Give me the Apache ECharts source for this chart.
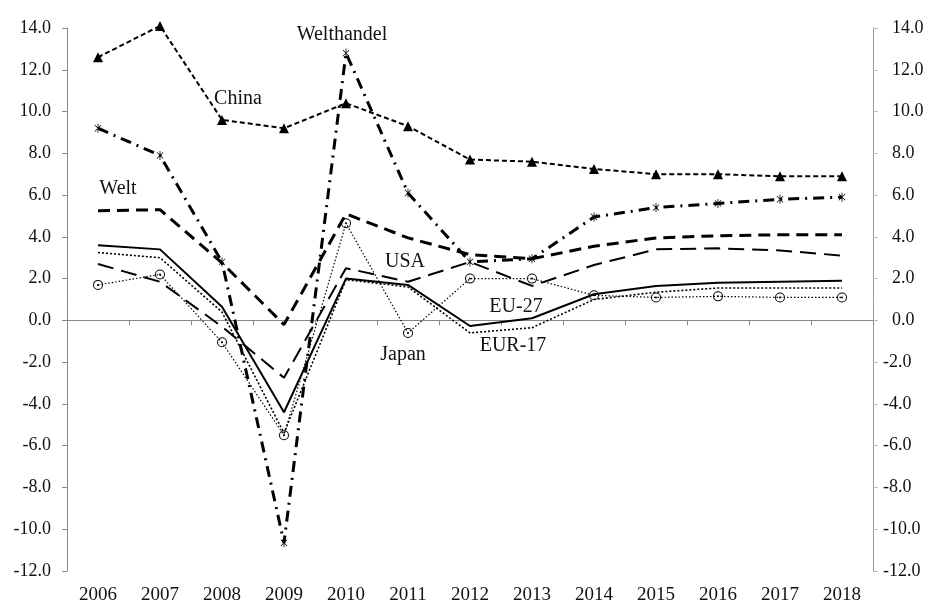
<!DOCTYPE html>
<html>
<head>
<meta charset="utf-8">
<script src="https://cdn.jsdelivr.net/npm/echarts@6/dist/echarts.min.js"></script>
<style>
  html, body { margin: 0; padding: 0; background: #fff; }
  #chart { width: 940px; height: 605px; }
</style>
</head>
<body>
<div id="chart"></div>
<script>
const years = ['2006', '2007', '2008', '2009', '2010', '2011', '2012', '2013', '2014', '2015', '2016', '2017', '2018']

const china = [12.6, 14.1, 9.6, 9.2, 10.4, 9.3, 7.7, 7.6, 7.25, 7.0, 7.0, 6.9, 6.9]
const welthandel = [9.2, 7.9, 2.8, -10.65, 12.8, 6.1, 2.8, 2.95, 4.95, 5.4, 5.6, 5.8, 5.9]
const welt = [5.25, 5.3, 2.75, -0.2, 5.1, 3.95, 3.15, 2.95, 3.55, 3.95, 4.05, 4.1, 4.1]
const usa = [2.7, 1.85, -0.3, -2.75, 2.5, 1.85, 2.8, 1.65, 2.65, 3.4, 3.45, 3.35, 3.1]
const eu27 = [3.6, 3.4, 0.65, -4.4, 2.0, 1.7, -0.27, 0.1, 1.25, 1.65, 1.8, 1.85, 1.9]
const eur17 = [3.25, 3.0, 0.4, -5.4, 1.95, 1.6, -0.6, -0.35, 1.0, 1.35, 1.55, 1.55, 1.55]
const japan = [1.7, 2.2, -1.05, -5.5, 4.65, -0.6, 2.0, 2.0, 1.2, 1.1, 1.15, 1.1, 1.1]

const FONT = 'Liberation Serif'

// Sternchen und Kreis mit Punkt als eigene Symbole
const asterisk = 'path://M-0.45,-5L0.45,-5L0.45,5L-0.45,5Z' +
  'M-3.22,-3.78L3.78,3.22L3.22,3.78L-3.78,-3.22Z' +
  'M-3.22,3.78L3.78,-3.22L3.22,-3.78L-3.78,3.22Z'
const dotCircle = 'path://M0,-5A5,5 0 1,1 0,5A5,5 0 1,1 0,-5Z' +
  'M0,-4A4,4 0 1,0 0,4A4,4 0 1,0 0,-4Z' +
  'M0,-1A1,1 0 1,1 0,1A1,1 0 1,1 0,-1Z'

const yAxisBase = {
  type: 'value',
  min: -12,
  max: 14,
  interval: 2,
  splitLine: { show: false },
  axisLine: { show: true, lineStyle: { color: '#888', width: 1 } },
  axisTick: { show: true, length: 5, lineStyle: { color: '#888' } },
  axisLabel: {
    color: '#111',
    fontFamily: FONT,
    fontSize: 18,
    formatter: v => v.toFixed(1),
  },
}

function line(name, data, style, symbol, symbolSize) {
  return {
    name,
    type: 'line',
    data,
    xAxisIndex: 0,
    yAxisIndex: 0,
    clip: false,
    symbol: symbol || 'none',
    symbolSize: symbolSize || 0,
    symbolKeepAspect: true,
    showSymbol: !!symbol,
    itemStyle: { color: '#000', borderWidth: 0 },
    lineStyle: Object.assign({ color: '#000' }, style),
    animation: false,
    silent: true,
  }
}

const option = {
  backgroundColor: '#fff',
  animation: false,
  grid: { left: 67, right: 67, top: 28, bottom: 34 },
  xAxis: [
    {
      type: 'category',
      data: years,
      position: 'bottom',
      axisLine: { show: false, onZero: false },
      axisTick: { show: false },
      axisLabel: { color: '#111', fontFamily: FONT, fontSize: 19, margin: 15 },
    },
    {
      type: 'category',
      data: years,
      position: 'top',
      axisLine: { show: true, onZero: true, lineStyle: { color: '#888', width: 1 } },
      axisTick: { show: true, inside: true, length: 5, lineStyle: { color: '#888' } },
      axisLabel: { show: false },
    },
  ],
  yAxis: [
    Object.assign({}, yAxisBase, {
      position: 'left',
      axisLabel: Object.assign({}, yAxisBase.axisLabel, { margin: 16 }),
    }),
    Object.assign({}, yAxisBase, {
      position: 'right',
      axisLine: { show: true, lineStyle: { color: '#999', width: 1 } },
      axisTick: { show: true, length: 5, lineStyle: { color: '#bbb' } },
      axisLabel: Object.assign({}, yAxisBase.axisLabel, {
        margin: 10,
        formatter: v => (v >= 0 ? '\u2002' : '') + v.toFixed(1),
      }),
    }),
  ],
  series: [
    line('Japan', japan, { width: 1.2, type: [1.5, 2] }, dotCircle, 10),
    line('EUR-17', eur17, { width: 1.6, type: [2, 2] }),
    line('EU-27', eu27, { width: 2, type: 'solid' }),
    line('USA', usa, { width: 2, type: [16, 8] }),
    line('Welt', welt, { width: 3, type: [12, 7] }),
    line('Welthandel', welthandel, { width: 3, type: [11, 6, 2, 6] }, asterisk, 9),
    line('China', china, { width: 2, type: [5, 3] }, 'triangle', 10),
  ],
  graphic: [
    ['Welthandel', 342, 35],
    ['China', 238, 99],
    ['Welt', 118, 189],
    ['USA', 405, 262],
    ['EU-27', 516, 307],
    ['EUR-17', 513, 346],
    ['Japan', 403, 355],
  ].map(([t, x, y]) => ({
    type: 'text',
    x,
    y,
    silent: true,
    style: {
      text: t,
      fill: '#111',
      font: '20px "' + FONT + '"',
      textAlign: 'center',
      textVerticalAlign: 'middle',
    },
  })),
}

const chart = echarts.init(document.getElementById('chart'), null, { renderer: 'canvas' })
chart.setOption(option)
</script>
</body>
</html>
